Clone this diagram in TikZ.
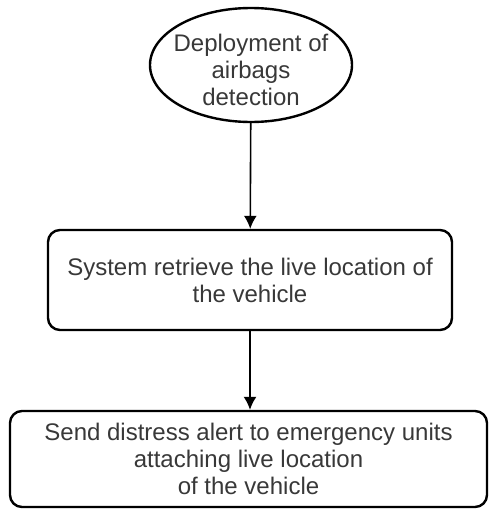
\documentclass[tikz,border=0pt]{standalone}
\usepackage{fontspec}
\setmainfont{Liberation Sans}
\usepackage{tikz}
\usetikzlibrary{arrows.meta,shapes.geometric}

\begin{document}
\begin{tikzpicture}[x = 1pt, y = -1pt,
		box/.style = {draw, line width = 2.4pt, rounded corners = 12pt, align = center, inner sep = 0pt, text = black!78, font = \fontsize{24}{27}\selectfont},
		oval/.style = {draw, ellipse, line width = 2.4pt, inner sep = 0pt},
		link/.style = {-{Latex[length = 13pt, width = 13pt]}, line width = 1.6pt}]
				\useasboundingbox (0,0) rectangle (488,509);
				\node[oval, minimum width = 202pt, minimum height = 114pt] (detect) at (251,65) {};
				\node[text = black!78, align = center, font = \fontsize{24}{27}\selectfont] (detecttext) at (251,70) {Deployment of\\airbags\\detection};
				\node[box, minimum width = 404pt, minimum height = 100pt] (retrieve) at (250,280) {System retrieve the live location of\\the vehicle};
				\node[box, minimum width = 477pt, minimum height = 96pt] (alert) at (248.5,459) {Send distress alert to emergency units\\attaching live location\\of the vehicle};
				\draw[link] (detect) -- (retrieve);
				\draw[link] (retrieve) -- (retrieve |- alert.north);

			\end{tikzpicture}
\end{document}
